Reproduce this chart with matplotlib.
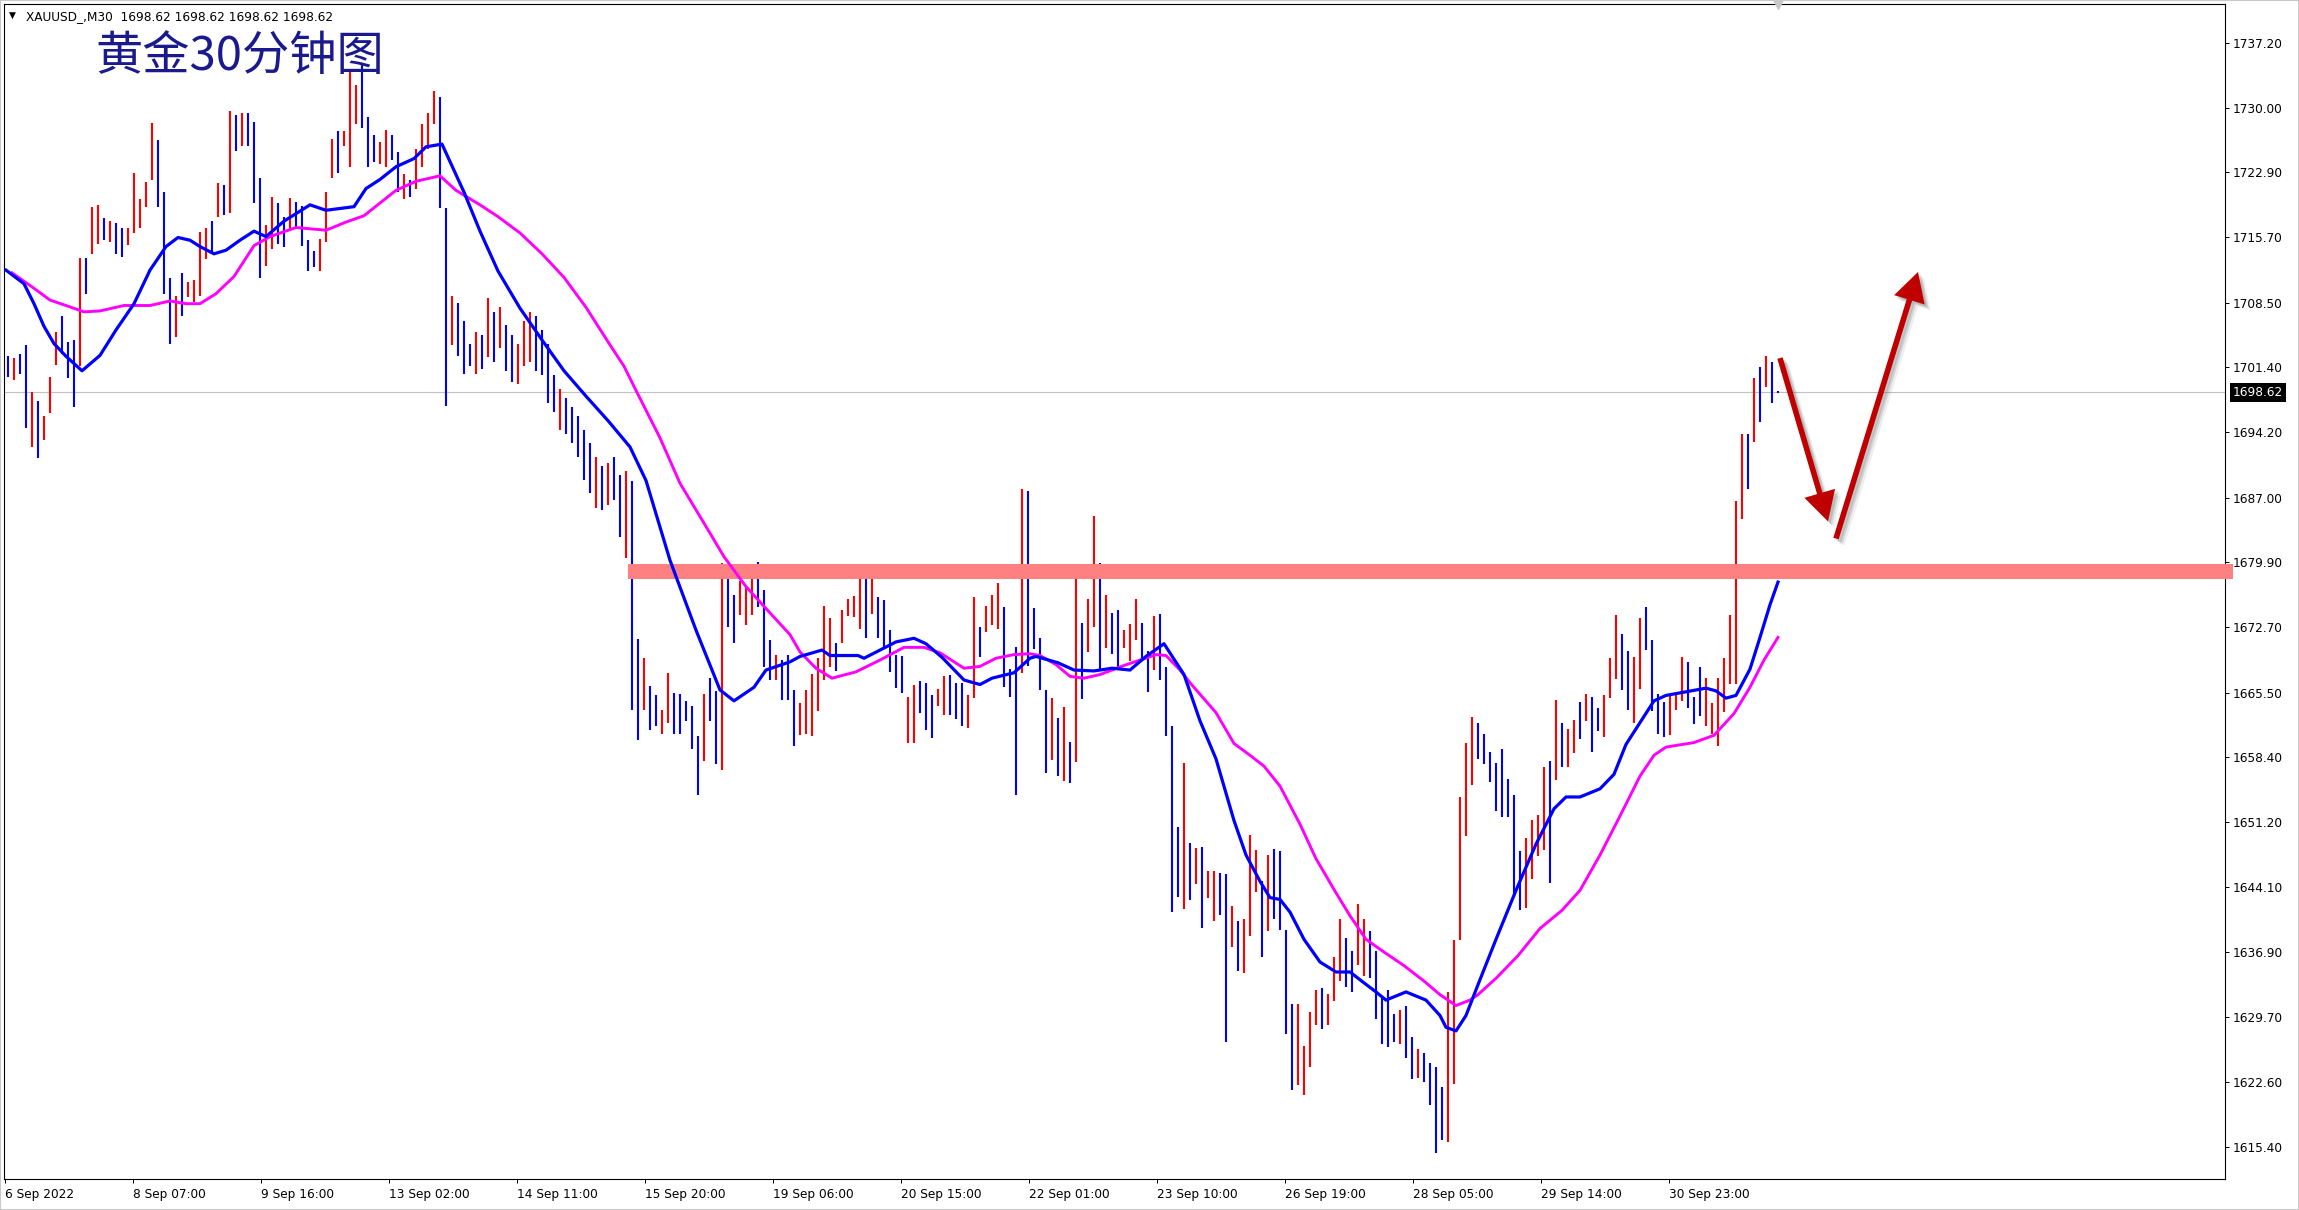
import matplotlib
matplotlib.use('Agg')
import matplotlib.pyplot as plt
from matplotlib.patches import Rectangle
from matplotlib import transforms

# ---------------- chart data ----------------
symbol_line = 'XAUUSD_,M30  1698.62 1698.62 1698.62 1698.62'
chart_title = '黄金30分钟图'
last_price = 1698.62

# one mark = 3 consecutive M30 bars (high / low), 'r' = up bar, 'b' = down bar
bars_per_mark = 3
bar_high = [
    1702.6, 1702.4, 1702.8, 1703.8, 1698.7, 1697.7, 1696.0, 1700.3, 1705.3, 1707.0,
    1704.2, 1704.4, 1713.4, 1713.4, 1719.1, 1719.3, 1717.8, 1717.5, 1717.3, 1716.8,
    1716.7, 1722.8, 1719.9, 1721.8, 1728.3, 1726.4, 1720.7, 1711.2, 1709.2, 1711.8,
    1710.8, 1711.0, 1716.3, 1716.8, 1717.5, 1721.7, 1721.5, 1729.6, 1729.2, 1729.4,
    1729.4, 1728.4, 1722.3, 1717.1, 1720.2, 1719.5, 1718.0, 1720.1, 1719.6, 1719.2,
    1715.4, 1714.2, 1715.5, 1720.7, 1726.6, 1727.4, 1727.4, 1734.1, 1732.5, 1734.9,
    1729.0, 1727.0, 1726.2, 1727.6, 1727.0, 1725.1, 1722.7, 1722.0, 1725.5, 1728.2,
    1729.4, 1731.9, 1731.2, 1719.0, 1709.3, 1708.5, 1706.5, 1704.0, 1705.3, 1705.0,
    1709.0, 1707.5, 1708.0, 1706.0, 1705.0, 1704.0, 1706.5, 1707.5, 1707.0, 1705.5,
    1704.0, 1700.5, 1699.0, 1698.0, 1697.0, 1696.0, 1694.5, 1693.0, 1691.5, 1690.5,
    1690.8, 1691.5, 1689.5, 1690.0, 1688.9, 1671.4, 1669.3, 1666.2, 1665.2, 1663.6,
    1667.7, 1665.5, 1665.4, 1664.6, 1664.0, 1660.7, 1665.4, 1667.1, 1665.7, 1679.8,
    1679.2, 1676.3, 1677.8, 1677.2, 1679.2, 1679.9, 1676.8, 1671.3, 1669.7, 1669.1,
    1669.7, 1665.8, 1664.4, 1665.8, 1667.6, 1669.3, 1675.1, 1673.7, 1671.0, 1674.6,
    1675.8, 1676.2, 1679.4, 1678.7, 1678.0, 1676.0, 1675.7, 1672.4, 1669.7, 1669.5,
    1665.0, 1666.3, 1666.8, 1666.6, 1665.3, 1665.9, 1667.3, 1667.4, 1666.6, 1666.6,
    1665.3, 1676.0, 1672.8, 1675.1, 1676.3, 1677.6, 1675.0, 1668.1, 1670.5, 1688.0,
    1687.7, 1674.8, 1671.5, 1665.8, 1664.9, 1662.7, 1663.9, 1660.1, 1678.1, 1673.2,
    1675.8, 1685.0, 1679.8, 1676.3, 1674.3, 1674.6, 1672.4, 1673.1, 1675.8, 1673.2,
    1670.1, 1674.0, 1674.2, 1668.3, 1661.8, 1650.7, 1657.8, 1648.9, 1648.4, 1648.5,
    1645.8, 1645.8, 1645.6, 1645.5, 1642.0, 1640.3, 1640.5, 1649.8, 1648.1, 1644.7,
    1647.6, 1648.3, 1648.0, 1639.3, 1631.2, 1631.2, 1626.5, 1630.3, 1632.7, 1632.9,
    1632.3, 1636.3, 1640.5, 1638.5, 1637.0, 1642.2, 1640.5, 1639.2, 1637.0, 1631.9,
    1632.7, 1630.1, 1630.5, 1631.0, 1627.5, 1626.2, 1625.8, 1624.7, 1624.2, 1622.0,
    1632.5, 1638.2, 1654.0, 1659.9, 1662.8, 1662.2, 1661.0, 1659.0, 1657.8, 1659.3,
    1656.0, 1654.2, 1648.0, 1649.5, 1651.5, 1652.0, 1657.3, 1658.0, 1664.7, 1662.2,
    1661.5, 1662.5, 1664.5, 1665.4, 1665.0, 1663.8, 1665.2, 1669.3, 1674.1, 1672.0,
    1670.1, 1669.4, 1673.7, 1675.0, 1671.3, 1665.4, 1664.5, 1665.3, 1665.6, 1669.4,
    1668.9, 1665.0, 1668.3, 1667.1, 1664.4, 1667.1, 1669.3, 1674.1, 1686.6, 1694.0,
    1694.0, 1700.2, 1701.4, 1702.6, 1702.0, 1698.8,
]
bar_low = [
    1700.3, 1700.0, 1700.6, 1694.7, 1692.6, 1691.4, 1693.4, 1696.4, 1701.6, 1702.9,
    1700.2, 1697.0, 1701.5, 1709.5, 1713.9, 1715.0, 1715.4, 1715.2, 1713.9, 1713.6,
    1714.9, 1716.2, 1716.8, 1719.1, 1722.0, 1719.1, 1709.5, 1704.0, 1704.7, 1707.0,
    1709.1, 1708.6, 1709.2, 1713.3, 1714.0, 1718.0, 1718.2, 1718.4, 1725.2, 1725.8,
    1725.8, 1719.5, 1711.2, 1712.6, 1714.4, 1715.0, 1714.6, 1716.4, 1716.8, 1714.8,
    1712.0, 1712.4, 1712.0, 1715.2, 1722.3, 1722.8, 1725.8, 1723.5, 1728.2, 1727.8,
    1723.5, 1724.0, 1723.8, 1723.5, 1724.2, 1720.7, 1719.9, 1720.2, 1721.0, 1723.5,
    1725.5, 1728.2, 1718.9, 1697.1, 1703.8, 1702.6, 1700.6, 1701.5, 1700.6, 1701.2,
    1702.5, 1702.0, 1703.5, 1701.0, 1699.8, 1699.5, 1701.5, 1702.0, 1701.0, 1700.5,
    1697.5, 1696.5, 1694.5, 1694.0, 1693.0, 1691.5, 1689.0, 1687.5, 1685.9, 1685.6,
    1686.2, 1686.7, 1682.7, 1680.3, 1663.6, 1660.3, 1663.6, 1661.4, 1661.8, 1661.0,
    1662.2, 1661.0, 1661.0, 1662.4, 1659.3, 1654.2, 1658.0, 1662.4, 1657.6, 1657.0,
    1672.8, 1671.0, 1674.1, 1673.0, 1674.1, 1675.0, 1668.3, 1666.9, 1666.9, 1664.7,
    1664.7, 1659.6, 1660.8, 1661.0, 1660.7, 1663.5, 1666.9, 1668.3, 1667.9, 1671.0,
    1674.0, 1673.8, 1672.5, 1671.5, 1674.2, 1671.5, 1670.3, 1667.8, 1666.0, 1665.5,
    1659.9, 1660.0, 1663.3, 1661.4, 1660.5, 1664.0, 1663.0, 1663.0, 1662.6, 1661.8,
    1661.6, 1664.9, 1669.4, 1672.2, 1673.0, 1672.5, 1666.1, 1665.0, 1654.2, 1667.7,
    1668.4, 1670.3, 1665.8, 1656.6, 1658.1, 1656.3, 1655.8, 1655.5, 1657.9, 1664.8,
    1670.0, 1672.8, 1668.0, 1670.4, 1669.8, 1668.0, 1670.4, 1669.0, 1671.3, 1669.1,
    1665.6, 1668.0, 1666.9, 1660.7, 1641.3, 1643.0, 1641.6, 1642.6, 1644.4, 1639.6,
    1642.9, 1640.3, 1641.0, 1627.0, 1637.5, 1634.8, 1634.6, 1638.7, 1643.5, 1636.3,
    1639.2, 1640.5, 1639.3, 1627.9, 1621.7, 1622.2, 1621.1, 1624.2, 1628.9, 1628.4,
    1628.9, 1631.5, 1633.7, 1633.0, 1632.5, 1635.5, 1634.3, 1634.0, 1629.5, 1626.8,
    1626.4, 1627.0, 1626.8, 1625.2, 1622.9, 1623.0, 1622.6, 1620.0, 1614.7, 1616.2,
    1616.0, 1622.3, 1638.2, 1649.7, 1655.3, 1658.2, 1657.6, 1655.7, 1652.5, 1651.8,
    1651.8, 1643.0, 1641.5, 1641.8, 1645.0, 1647.5, 1648.2, 1644.5, 1655.9, 1657.3,
    1657.3, 1658.9, 1660.4, 1662.4, 1659.0, 1661.3, 1660.6, 1664.9, 1667.0, 1665.8,
    1663.6, 1662.2, 1665.9, 1670.2, 1663.5, 1661.0, 1660.6, 1660.8, 1663.6, 1664.6,
    1663.8, 1662.0, 1662.9, 1661.8, 1661.0, 1659.6, 1663.4, 1666.5, 1666.5, 1684.7,
    1688.0, 1693.1, 1695.3, 1699.2, 1697.5, 1698.5,
]
bar_dir = ('brbbrbrrrb' 'bbrbrrbrbb' 'rrrrrbbbrb' 'rrrrbrbrbr' 'bbbrrbbrbb'
           'bbrrrbrrrb' 'bbrrbbrbrr' 'rrbbrbbbrb' 'rbrbbrrrbb' 'bbrbbbbbrb'
           'rbbrbbrbbr' 'rbbbbbrbbr' 'bbrrrbbbrb' 'bbrrrrrrbr' 'rrrbrbbbbb'
           'rrbbbrrbbb' 'rrbrrrbbbr' 'bbbbrbrbrb' 'rrbrbbrrrb' 'brbbbbrbrb'
           'rrbbrbrrrb' 'rbbbbrrrrb' 'rrrbbrrbbb' 'bbrbbrbbbb' 'rrrrrbbbbb'
           'bbbrrrrbrb' 'rrbrbbrrrb' 'brrbbbbrrr' 'bbbrrrrrrr' 'brbrbb')

# fast moving average (blue), sampled at M30 bar numbers
ma_fast_bar = [0, 9, 14, 19, 24, 30, 38, 47, 55, 64, 72, 80, 86, 92, 97, 104, 110, 117,
               124, 130, 139, 152, 160, 174, 180, 187, 195, 204, 210, 218, 229, 237,
               246, 257, 268, 279, 290, 301, 312, 320, 332, 345, 357, 364, 374, 380,
               392, 397, 408, 412, 426, 429, 437, 445, 454, 460, 468, 479, 487, 493,
               504, 512, 515, 526, 534, 544, 553, 562, 570, 579, 589, 597, 605, 614,
               620, 627, 632, 637, 642, 649, 657, 665, 672, 679, 685, 690, 700, 710,
               717, 720, 725, 730, 736, 745, 755, 765, 774, 780, 787, 797, 804, 810,
               817, 824, 830, 840, 850, 855, 860, 865, 872, 877, 882, 886]
ma_fast = [1712.1, 1710.6, 1708.4, 1705.9, 1704.0, 1702.6, 1701.0, 1702.7, 1705.5, 1708.4,
           1712.1, 1714.7, 1715.7, 1715.4, 1714.7, 1713.9, 1714.3, 1715.4, 1716.4, 1715.8,
           1717.5, 1719.3, 1718.7, 1719.1, 1721.1, 1722.1, 1723.5, 1724.4, 1725.7, 1726.0,
           1720.7, 1716.4, 1712.0, 1707.9, 1704.4, 1701.0, 1698.2, 1695.5, 1692.6, 1688.9,
           1680.1, 1672.4, 1665.8, 1664.6, 1666.1, 1668.0, 1668.9, 1669.5, 1670.2, 1669.6,
           1669.6, 1669.3, 1670.2, 1671.1, 1671.5, 1670.9, 1669.4, 1666.9, 1666.4, 1667.1,
           1667.7, 1669.3, 1669.5, 1668.8, 1668.0, 1667.9, 1668.2, 1668.0, 1669.5, 1670.9,
           1667.5, 1662.4, 1658.2, 1651.4, 1647.6, 1644.7, 1642.9, 1642.7, 1641.3, 1638.3,
           1635.8, 1634.7, 1634.7, 1633.5, 1632.5, 1631.6, 1632.5, 1631.6, 1629.9, 1628.6,
           1628.2, 1629.9, 1633.3, 1638.3, 1643.7, 1648.8, 1652.7, 1654.0, 1654.0, 1654.9,
           1656.5, 1659.8, 1662.2, 1664.6, 1665.2, 1665.6, 1666.0, 1665.7, 1664.9, 1665.2,
           1668.1, 1671.6, 1675.2, 1677.7]

# slow moving average (magenta)
ma_slow_bar = [3, 14, 22, 30, 39, 47, 59, 72, 82, 90, 97, 105, 114, 124, 132, 145, 160,
               170, 179, 187, 195, 205, 217, 225, 237, 246, 257, 268, 279, 290, 301, 309,
               316, 327, 337, 349, 359, 370, 382, 392, 397, 405, 413, 425, 437, 449, 459,
               467, 479, 487, 495, 504, 512, 517, 525, 532, 539, 547, 559, 567, 575, 580,
               587, 592, 605, 614, 622, 629, 637, 647, 655, 664, 672, 680, 689, 699, 709,
               717, 725, 732, 736, 745, 756, 767, 778, 787, 797, 807, 817, 824, 830, 844,
               854, 864, 872, 879, 886]
ma_slow = [1711.8, 1710.1, 1708.8, 1708.2, 1707.5, 1707.6, 1708.2, 1708.2, 1708.7, 1708.4,
           1708.4, 1709.5, 1711.4, 1714.8, 1715.8, 1716.8, 1716.5, 1717.4, 1718.1, 1719.5,
           1720.9, 1721.9, 1722.5, 1720.9, 1719.3, 1718.0, 1716.2, 1713.9, 1711.3, 1708.0,
           1704.2, 1701.5, 1698.4, 1693.6, 1688.6, 1684.2, 1680.5, 1677.2, 1674.3, 1671.9,
           1670.0, 1668.2, 1667.1, 1667.8, 1669.1, 1670.5, 1670.5, 1669.9, 1668.2, 1668.4,
           1669.3, 1669.7, 1669.8, 1669.6, 1668.6, 1667.3, 1667.1, 1667.5, 1668.5, 1669.1,
           1669.7, 1669.6, 1668.0, 1666.6, 1663.3, 1659.9, 1658.6, 1657.4, 1655.2, 1651.0,
           1647.2, 1643.8, 1640.9, 1638.3, 1636.9, 1635.4, 1633.7, 1632.2, 1631.0, 1631.6,
           1632.2, 1634.0, 1636.5, 1639.5, 1641.5, 1643.7, 1647.6, 1651.9, 1656.3, 1658.6,
           1659.5, 1660.0, 1660.8, 1663.2, 1666.1, 1669.1, 1671.6]

price_ticks = [1737.20, 1730.00, 1722.90, 1715.70, 1708.50, 1701.40, 1694.20, 1687.00,
               1679.90, 1672.70, 1665.50, 1658.40, 1651.20, 1644.10, 1636.90, 1629.70,
               1622.60, 1615.40]
time_labels = ['6 Sep 2022', '8 Sep 07:00', '9 Sep 16:00', '13 Sep 02:00', '14 Sep 11:00',
               '15 Sep 20:00', '19 Sep 06:00', '20 Sep 15:00', '22 Sep 01:00',
               '23 Sep 10:00', '26 Sep 19:00', '28 Sep 05:00', '29 Sep 14:00',
               '30 Sep 23:00']
time_label_bar = [0, 64, 128, 192, 256, 320, 384, 448, 512, 576, 640, 704, 768, 832]

# resistance zone and the two drawn arrows (bar number, price)
zone_low, zone_high = 1678.0, 1679.7
zone_from_bar, zone_to_bar = 311, 1113.5
arrow_down = ((887, 1702.4), (911, 1684.4))
arrow_up = ((915, 1682.5), (956, 1711.9))

# ---------------- figure ----------------
W, H = 2299, 1210
fig = plt.figure(figsize=(W / 100, H / 100), dpi=100)
ax = fig.add_axes([4 / W, 31 / H, 2221 / W, 1175 / H])
ax.set_xlim(-1, 1109.5)
ax.set_ylim(1611.87, 1741.45)

RED = '#ff0000'
BLUE = '#0000ff'

# current price line
ax.axhline(last_price, color='#c0c0c0', lw=0.8, zorder=1)

# bars
xs = [i * bars_per_mark + 1 for i in range(len(bar_high))]
cols = [RED if d == 'r' else BLUE for d in bar_dir]
ax.vlines(xs, bar_low, bar_high, colors=cols, lw=1.5, zorder=2)

# support / resistance zone
ax.add_patch(Rectangle((zone_from_bar, zone_low), zone_to_bar - zone_from_bar,
                       zone_high - zone_low, facecolor='#ff8080', edgecolor='none',
                       zorder=3, clip_on=False))

# moving averages
ax.plot(ma_slow_bar, ma_slow, color='#ff00ff', lw=2.1, zorder=4,
        solid_joinstyle='round')
ax.plot(ma_fast_bar, ma_fast, color=BLUE, lw=2.3, zorder=5, solid_joinstyle='round')

# arrows with a soft shadow
style = 'simple,head_length=2.1,head_width=2.3,tail_width=0.4'
for start, end in (arrow_down, arrow_up):
    for off, alpha in ((6, 0.10), (4, 0.18), (2.5, 0.22)):
        tr = transforms.offset_copy(ax.transData, fig=fig, x=off, y=-off, units='dots')
        ax.annotate('', xy=end, xytext=start, xycoords=tr, textcoords=tr,
                    arrowprops=dict(arrowstyle=style, mutation_scale=10, color='#606060',
                                    alpha=alpha, lw=0, shrinkA=0, shrinkB=0), zorder=6)
    ax.annotate('', xy=end, xytext=start,
                arrowprops=dict(arrowstyle=style, mutation_scale=10, color='#c00000',
                                lw=0, shrinkA=0, shrinkB=0), zorder=7)

# axes styling
for sp in ax.spines.values():
    sp.set_linewidth(0.8)
    sp.set_color('black')
ax.yaxis.tick_right()
ax.set_yticks(price_ticks)
ax.set_yticklabels(['%.2f' % p for p in price_ticks])
ax.tick_params(axis='y', direction='out', length=3, width=0.7, pad=2.5,
               labelsize=8.7, colors='black')
ax.set_xticks([b - 0.5 for b in time_label_bar])
ax.set_xticklabels(time_labels, ha='left')
ax.tick_params(axis='x', direction='out', length=3, width=0.7, pad=3.5,
               labelsize=8.7, colors='black')

# current price tag
yt = transforms.blended_transform_factory(ax.transAxes, ax.transData)
ax.text(1.0036, last_price, '%.2f' % last_price, transform=yt, fontsize=8.7,
        color='white', ha='left', va='center', clip_on=False,
        bbox=dict(boxstyle='square,pad=0.22', facecolor='black', edgecolor='none'))

# chart shift marker at the top
ax.plot([886], [1.0], transform=transforms.blended_transform_factory(ax.transData, ax.transAxes),
        marker='v', markersize=7, color='#c8c8c8', clip_on=False, zorder=8)

# header texts
fig.text(9 / W, 1 - 15 / H, '▼', fontsize=6.5, va='center', ha='left', color='black')
fig.text(26 / W, 1 - 16.5 / H, symbol_line, fontsize=8.7, va='center', ha='left',
         color='black')
fig.text(95 / W, 1 - 57 / H, chart_title, fontsize=34, va='center', ha='left',
         color='#1a1a8c', fontweight='light', family=['Noto Sans CJK SC', 'DejaVu Sans'])

# window frame
fig.patches.append(Rectangle((0, 0), 1, 1, transform=fig.transFigure, fill=False,
                             edgecolor='#c8c8c8', lw=1.5))

fig.savefig('out.png', dpi=100, facecolor='white')
